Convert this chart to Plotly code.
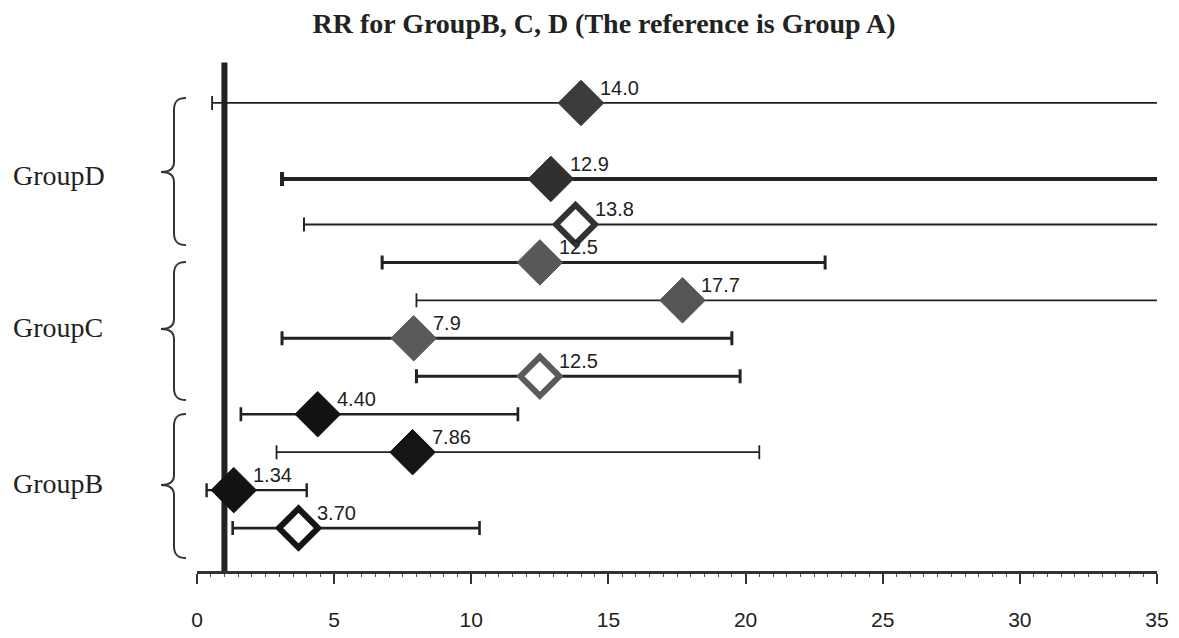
import plotly.graph_objects as go

# ---------------- data ----------------
group_names = ["GroupD", "GroupC", "GroupB"]
rr_values = [14.0, 12.9, 13.8, 12.5, 17.7, 7.9, 12.5, 4.40, 7.86, 1.34, 3.70]
rr_labels = ["14.0", "12.9", "13.8", "12.5", "17.7", "7.9", "12.5", "4.40", "7.86", "1.34", "3.70"]
ci_lower = [0.55, 3.1, 3.9, 6.75, 8.0, 3.1, 8.0, 1.6, 2.9, 0.35, 1.3]
# None = upper limit beyond the axis (line runs off the right edge)
ci_upper = [None, None, None, 22.9, None, 19.5, 19.8, 11.7, 20.5, 4.0, 10.3]
x_ticks = [0, 5, 10, 15, 20, 25, 30, 35]
reference_rr = 1
title_text = "RR for GroupB, C, D (The reference is Group A)"

# ---------------- layout / style ----------------
row_pos = [12.2, 10.2, 9, 8, 7, 6, 5, 4, 3, 2, 1]
fill_col = ["#3b3b3b", "#303030", "white", "#585858", "#555555", "#5a5a5a", "white",
            "#121212", "#151515", "#121212", "white"]
edge_col = ["#3b3b3b", "#303030", "#333333", "#585858", "#555555", "#5a5a5a", "#5a5a5a",
            "#121212", "#151515", "#121212", "#141414"]
line_w = [1.8, 4, 2, 3, 1.8, 3, 3, 2.7, 1.8, 2.4, 2.6]
hollow = [False, False, True, False, False, False, True, False, False, False, True]

X0, X1 = 0, 35
Y0, Y1 = -0.13, 13.2
L, R, T, B = 197, 22, 65, 67
W, H = 1179, 638
PW, PH = W - L - R, H - T - B

def px(xpix):
    return (xpix - L) / PW

def py(ypix):
    return (H - B - ypix) / PH

fig = go.Figure()

for i, v in enumerate(rr_values):
    up = ci_upper[i] if ci_upper[i] is not None else X1 + 5
    fig.add_trace(go.Scatter(
        x=[v], y=[row_pos[i]], mode="markers",
        marker=dict(symbol="diamond", size=30 if hollow[i] else 35,
                    color=fill_col[i],
                    line=dict(color=edge_col[i], width=6 if hollow[i] else 1)),
        error_x=dict(type="data", symmetric=False,
                     array=[up - v], arrayminus=[v - ci_lower[i]],
                     thickness=line_w[i], width=7, color="#222222"),
        showlegend=False, hoverinfo="skip"))
    fig.add_annotation(x=v, y=row_pos[i], text=rr_labels[i], showarrow=False,
                       xanchor="left", yanchor="middle", xshift=17, yshift=15,
                       font=dict(family="Liberation Sans", size=20, color="#222222"))

# reference line
fig.add_shape(type="line", xref="x", yref="paper", x0=reference_rr, x1=reference_rr,
              y0=0, y1=1.005, line=dict(color="#222222", width=6), layer="below")

# braces and group labels (pixel geometry)
brace_spec = [(98, 172, 245), (262, 329, 400), (414, 485, 558)]
label_y = [175, 327, 483]
xe, xs, xt = 186, 174, 161
for (top, tip, bot), name, ly in zip(brace_spec, group_names, label_y):
    pts = [
        ("M", [(xe, top)]),
        ("C", [(178, top), (xs, top + 3), (xs, top + 12)]),
        ("L", [(xs, tip - 10)]),
        ("C", [(xs, tip - 3), (169, tip), (xt, tip)]),
        ("C", [(169, tip), (xs, tip + 3), (xs, tip + 10)]),
        ("L", [(xs, bot - 12)]),
        ("C", [(xs, bot - 3), (178, bot), (xe, bot)]),
    ]
    path = " ".join(cmd + " " + " ".join(f"{px(a):.5f},{py(b):.5f}" for a, b in p)
                    for cmd, p in pts)
    fig.add_shape(type="path", xref="paper", yref="paper", path=path,
                  line=dict(color="#333333", width=2))
    fig.add_annotation(xref="paper", yref="paper", x=px(11), y=py(ly), text=name,
                       showarrow=False, xanchor="left", yanchor="middle",
                       font=dict(family="Liberation Serif", size=28, color="#222222"))

fig.update_layout(
    width=W, height=H,
    margin=dict(l=L, r=R, t=T, b=B),
    paper_bgcolor="white", plot_bgcolor="white",
    title=dict(text="<b>" + title_text + "</b>", x=604 / W, xanchor="center",
               xref="container", y=1 - 23 / H, yanchor="middle", yref="container",
               font=dict(family="Liberation Serif", size=28, color="#222222")),
    xaxis=dict(range=[X0, X1], tickvals=x_ticks, ticktext=[str(t) for t in x_ticks],
               automargin=False,
               showgrid=False, zeroline=False, showline=True, linecolor="#333333",
               linewidth=3, ticks="outside", ticklen=10, tickwidth=2, tickcolor="#333333",
               ticklabelstandoff=18,
               minor=dict(ticks="outside", dtick=0.5, ticklen=3, tickwidth=1,
                          tickcolor="#555555"),
               tickfont=dict(family="Liberation Sans", size=21, color="#222222")),
    yaxis=dict(range=[Y0, Y1], visible=False, showgrid=False, zeroline=False,
               automargin=False),
)

fig.write_html("out.html")
